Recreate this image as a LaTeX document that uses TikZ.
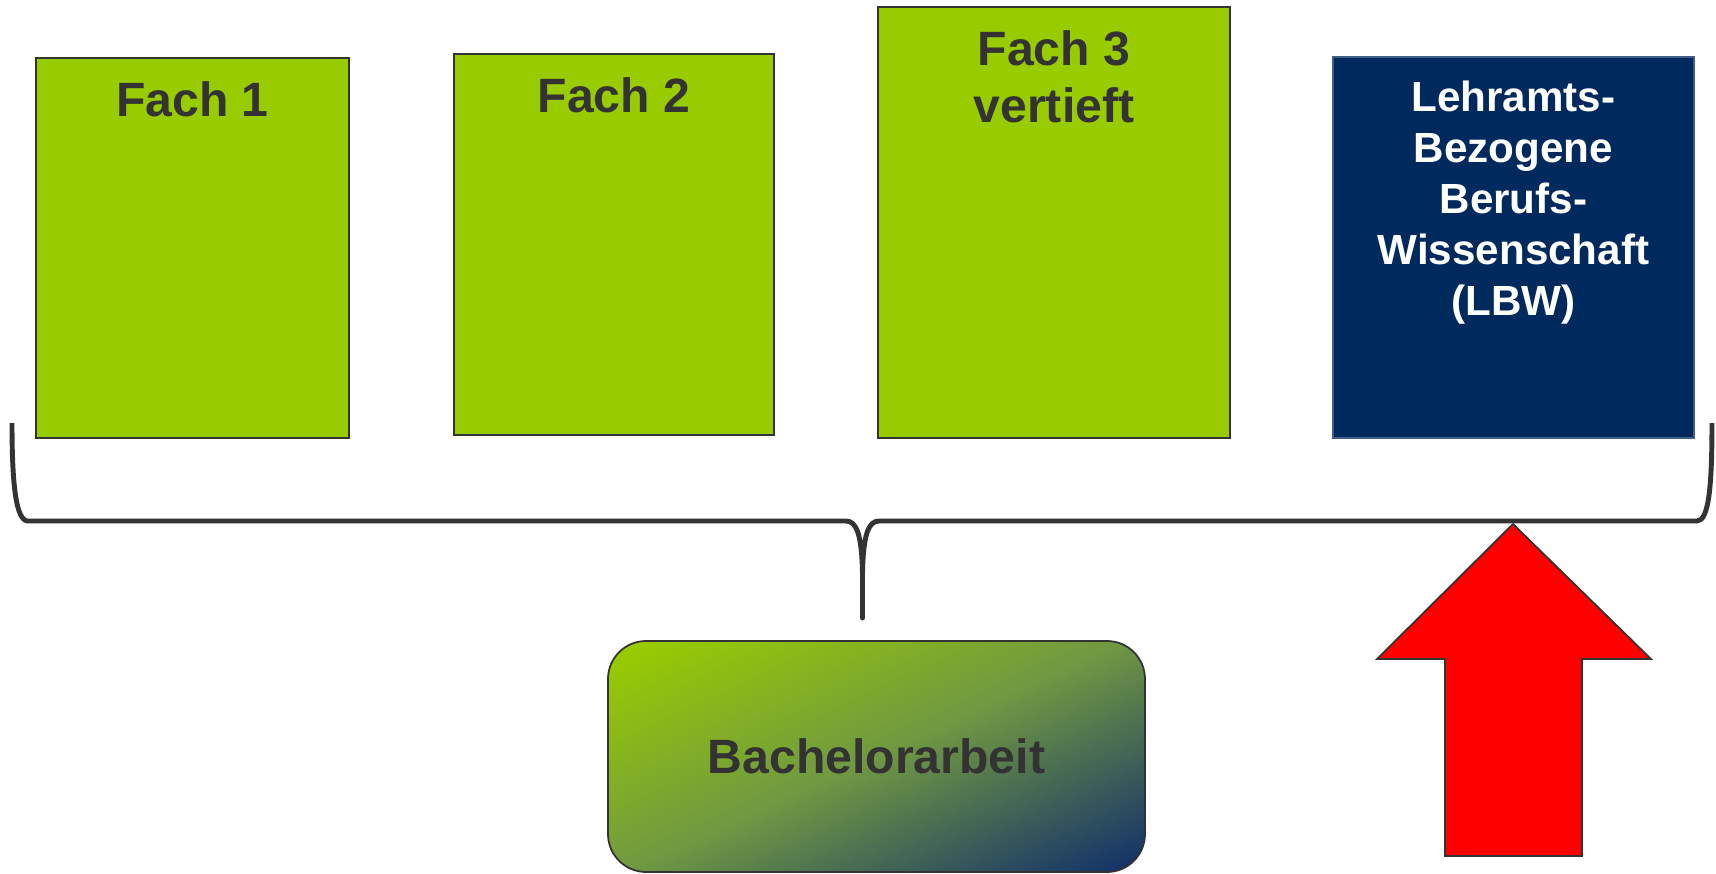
\documentclass[tikz,border=0pt]{standalone}
\usepackage{fontspec}
\setmainfont{Liberation Sans}
\usetikzlibrary{positioning}

\definecolor{fachgreen}{RGB}{153,204,0}
\definecolor{lbwblue}{RGB}{0,42,94}
\definecolor{bablue}{RGB}{22,52,104}
\definecolor{bamid}{RGB}{112,152,66}
\definecolor{textgray}{RGB}{51,51,51}
\definecolor{arrowred}{RGB}{255,0,0}

\pgfdeclareverticalshading{bashading}{100bp}{color(0bp)=(bablue); color(19bp)=(bablue);
  color(50bp)=(bamid); color(81bp)=(fachgreen); color(100bp)=(fachgreen)}

\begin{document}
\begin{tikzpicture}[thick,node distance=4.215cm,
  fach box/.style={rectangle,draw=textgray,line width=0.5pt,
    fill=fachgreen,inner sep=0pt},
  box text/.style={font=\bfseries\fontsize{13.7}{16.2}\selectfont,
    text=textgray,align=center,inner sep=0pt},
  brace line/.style={draw=textgray,line width=1.4pt,line join=round}]

  \useasboundingbox (0,0) rectangle (17.16,-8.74);

  \node[fach box,minimum width=3.13cm,minimum height=3.80cm] (F1) at (1.925,-2.48) {};
  \node[fach box,minimum width=3.20cm,minimum height=3.81cm] (F2) [right of=F1, yshift=0.035cm] {};
  \node[fach box,minimum width=3.52cm,minimum height=4.31cm] (F3) [node distance=4.40cm, right of=F2, yshift=0.22cm] {};
  \node[rectangle,fill=lbwblue,draw=lbwblue!75!white,line width=0.4pt,
    minimum width=3.61cm,minimum height=3.81cm] (LBW) [node distance=4.595cm, right of=F3, yshift=-0.25cm] {};

  \node[box text] (T1) [below=0.23cm of F1.north] {Fach 1};
  \node[box text] (T2) [below=0.23cm of F2.north] {Fach 2};
  \node[box text] (T3) [below=0.23cm of F3.north] {Fach 3\\vertieft};
  \node[box text,text=white,font=\bfseries\fontsize{12}{14.5}\selectfont] (TL) [below=0.23cm of LBW.north]
    {Lehramts-\\Bezogene\\Berufs-\\Wissenschaft\\(LBW)};

  \node[box text,rounded corners=0.38cm,draw=textgray,line width=0.5pt,
    shade,shading=bashading,shading angle=25,
    minimum width=5.37cm,minimum height=2.31cm] (BA) at (8.765,-7.565) {Bachelorarbeit};

  \draw[brace line] (0.12,-4.23) .. controls (0.12,-4.85) and (0.16,-5.21) .. (0.28,-5.21)
    -- (8.46,-5.21) .. controls (8.56,-5.21) and (8.62,-5.33) .. (8.625,-5.75)
    -- (8.625,-6.18) -- (8.625,-5.75) .. controls (8.63,-5.33) and (8.69,-5.21) .. (8.79,-5.21)
    -- (16.97,-5.21) .. controls (17.09,-5.21) and (17.12,-4.85) .. (17.12,-4.23);

  \draw[fill=arrowred,draw=textgray,line width=0.5pt] (15.13,-5.24) -- (16.51,-6.59)
    -- (15.82,-6.59) -- (15.82,-8.56) -- (14.45,-8.56) -- (14.45,-6.59) -- (13.77,-6.59) -- cycle;
\end{tikzpicture}
\end{document}
